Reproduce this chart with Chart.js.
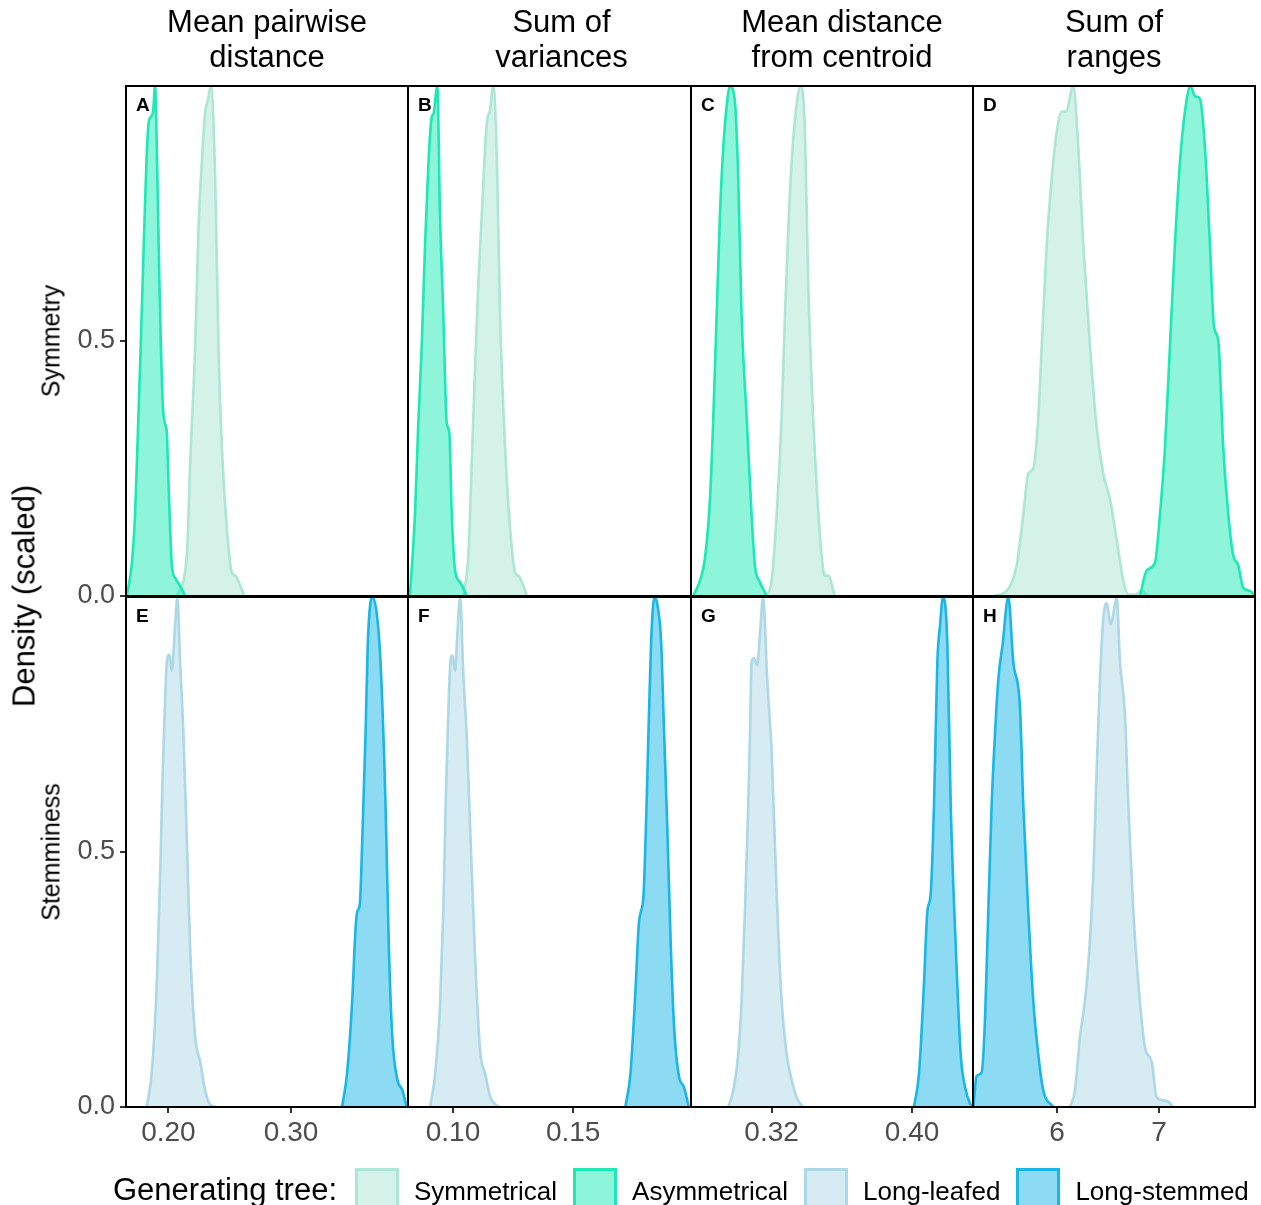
<!DOCTYPE html>
<html>
<head>
<meta charset="utf-8">
<script src="https://cdn.jsdelivr.net/npm/chart.js@4.4.1/dist/chart.umd.min.js"></script>
<style>
  body { margin: 0; background: #fff; width: 1261px; height: 1205px; overflow: hidden; position: relative;
         font-family: "Liberation Sans", Arial, Helvetica, sans-serif; }
  canvas { position: absolute; }
  .strip { position: absolute; text-align: center; font-size: 31px; line-height: 35px; color: #000; white-space: pre; }
  .letter { position: absolute; font-size: 19px; font-weight: bold; line-height: 19px; color: #000; }
  .rot { position: absolute; transform: translate(-50%, -50%) rotate(-90deg); white-space: nowrap; color: #000; }
  #legend { position: absolute; left: 113px; top: 1168px; display: flex; align-items: flex-start; width: 1200px; white-space: nowrap; }
  #legend span { flex-shrink: 0; }
  #legend .title { font-size: 31px; line-height: 31px; margin-top: 6px; margin-right: 18px; }
  #legend .key { width: 38px; height: 40px; border: 3px solid; margin-right: 15px; box-sizing: content-box; }
  #legend .lab { font-size: 26px; line-height: 26px; margin-top: 10px; margin-right: 16px; }
</style>
</head>
<body>
<script>
// facet text
const columnTitles = ['Mean pairwise\ndistance', 'Sum of\nvariances', 'Mean distance\nfrom centroid', 'Sum of\nranges'];
const rowTitles = ['Symmetry', 'Stemminess'];
const panelLetters = ['A', 'B', 'C', 'D', 'E', 'F', 'G', 'H'];

// axes
const xMin = [0.1654, 0.0813, 0.2741, 5.176];
const xMax = [0.3953, 0.1990, 0.4347, 7.941];
const xTicks = [[0.20, 0.30], [0.10, 0.15], [0.32, 0.40], [6, 7]];
const xTickLabels = [['0.20', '0.30'], ['0.10', '0.15'], ['0.32', '0.40'], ['6', '7']];
const yTicks = [0, 0.5];
const yTickLabels = ['0.0', '0.5'];

// A: mean pairwise distance, symmetry
const aAsymX = [0.1660, 0.1700, 0.1728, 0.1752, 0.1774, 0.1800, 0.1822, 0.1840, 0.1858, 0.1875, 0.1891, 0.1910, 0.1926, 0.1953, 0.1970, 0.1987, 0.2001, 0.2028, 0.2056, 0.2095, 0.2136];
const aAsymY = [0, 0.06, 0.16, 0.33, 0.49, 0.70, 0.86, 0.93, 0.94, 0.95, 1.0, 0.82, 0.62, 0.38, 0.34, 0.32, 0.22, 0.06, 0.035, 0.02, 0];
const aSymX = [0.2068, 0.2150, 0.2177, 0.2218, 0.2245, 0.2272, 0.2300, 0.2320, 0.2346, 0.2381, 0.2408, 0.2436, 0.2477, 0.2518, 0.2545, 0.2569, 0.2618];
const aSymY = [0, 0.08, 0.26, 0.49, 0.72, 0.85, 0.95, 0.97, 1.0, 0.82, 0.49, 0.29, 0.13, 0.045, 0.04, 0.03, 0];

// B: sum of variances, symmetry
const bAsymX = [0.0821, 0.0842, 0.0855, 0.0870, 0.0884, 0.0898, 0.0912, 0.0919, 0.0935, 0.0946, 0.0960, 0.0974, 0.0985, 0.0995, 0.1009, 0.1030, 0.1058];
const bAsymY = [0, 0.16, 0.33, 0.49, 0.69, 0.85, 0.94, 0.945, 1.0, 0.75, 0.55, 0.34, 0.32, 0.16, 0.05, 0.027, 0];
const bSymX = [0.1043, 0.1064, 0.1078, 0.1092, 0.1106, 0.1120, 0.1141, 0.1153, 0.1168, 0.1183, 0.1196, 0.1217, 0.1238, 0.1259, 0.1273, 0.1284, 0.1308];
const bSymY = [0, 0.08, 0.26, 0.45, 0.62, 0.75, 0.93, 0.95, 1.0, 0.85, 0.55, 0.29, 0.13, 0.045, 0.04, 0.03, 0];

// C: mean distance from centroid, symmetry
const cAsymX = [0.2754, 0.2792, 0.2821, 0.2849, 0.2868, 0.2887, 0.2906, 0.2925, 0.2944, 0.2963, 0.2991, 0.3010, 0.3029, 0.3058, 0.3086, 0.3105, 0.3134, 0.3172];
const cAsymY = [0, 0.03, 0.075, 0.19, 0.35, 0.55, 0.75, 0.88, 0.96, 1.0, 0.97, 0.82, 0.55, 0.35, 0.16, 0.06, 0.027, 0];
const cSymX = [0.3172, 0.3200, 0.3229, 0.3257, 0.3276, 0.3295, 0.3314, 0.3338, 0.3365, 0.3390, 0.3408, 0.3428, 0.3456, 0.3485, 0.3503, 0.3522, 0.3560];
const cSymY = [0, 0.03, 0.16, 0.35, 0.55, 0.72, 0.85, 0.95, 1.0, 0.91, 0.62, 0.42, 0.22, 0.08, 0.04, 0.04, 0];

// D: sum of ranges, symmetry
const dAsymX = [6.813, 6.879, 6.960, 7.009, 7.058, 7.107, 7.156, 7.205, 7.254, 7.310, 7.352, 7.401, 7.450, 7.499, 7.538, 7.581, 7.630, 7.679, 7.728, 7.777, 7.826, 7.892, 7.944];
const dAsymY = [0, 0.05, 0.065, 0.16, 0.29, 0.49, 0.69, 0.85, 0.95, 1.0, 0.98, 0.975, 0.88, 0.69, 0.53, 0.50, 0.29, 0.16, 0.08, 0.06, 0.016, 0.01, 0];
const dSymX = [5.375, 5.506, 5.604, 5.669, 5.718, 5.767, 5.816, 5.850, 5.899, 5.948, 5.997, 6.046, 6.088, 6.159, 6.208, 6.257, 6.323, 6.389, 6.453, 6.519, 6.585, 6.650, 6.699, 6.764, 6.830, 6.892];
const dSymY = [0, 0.01, 0.06, 0.16, 0.24, 0.25, 0.35, 0.49, 0.69, 0.82, 0.91, 0.95, 0.95, 1.0, 0.88, 0.69, 0.49, 0.33, 0.24, 0.19, 0.11, 0.03, 0.003, 0.003, 0.01, 0];

// E: mean pairwise distance, stemminess
const eStemX = [0.3416, 0.3457, 0.3498, 0.3525, 0.3539, 0.3560, 0.3580, 0.3607, 0.3625, 0.3661, 0.3697, 0.3729, 0.3770, 0.3797, 0.3825, 0.3866, 0.3907, 0.3942];
const eStemY = [0, 0.068, 0.208, 0.348, 0.383, 0.397, 0.523, 0.733, 0.908, 1.0, 0.97, 0.873, 0.593, 0.313, 0.138, 0.054, 0.033, 0];
const eLeafX = [0.1823, 0.1864, 0.1905, 0.1932, 0.1954, 0.1973, 0.1987, 0.2008, 0.2027, 0.2054, 0.2073, 0.2095, 0.2122, 0.2150, 0.2177, 0.2218, 0.2259, 0.2299, 0.2340, 0.2395];
const eLeafY = [0, 0.068, 0.243, 0.453, 0.663, 0.80, 0.873, 0.887, 0.855, 0.943, 1.0, 0.873, 0.733, 0.523, 0.313, 0.138, 0.089, 0.033, 0.005, 0];

// F: sum of variances, stemminess
const fStemX = [0.1717, 0.1738, 0.1759, 0.1773, 0.1780, 0.1793, 0.1805, 0.1814, 0.1824, 0.1838, 0.1852, 0.1866, 0.1877, 0.1891, 0.1905, 0.1919, 0.1940, 0.1960, 0.1981];
const fStemY = [0, 0.065, 0.228, 0.36, 0.38, 0.42, 0.59, 0.75, 0.91, 1.0, 0.98, 0.91, 0.75, 0.555, 0.33, 0.163, 0.06, 0.04, 0];
const fLeafX = [0.0905, 0.0926, 0.0946, 0.0960, 0.0971, 0.0981, 0.0991, 0.0998, 0.1009, 0.1018, 0.1030, 0.1043, 0.1058, 0.1071, 0.1092, 0.1113, 0.1134, 0.1155, 0.1183, 0.1196];
const fLeafY = [0, 0.065, 0.196, 0.39, 0.62, 0.78, 0.88, 0.885, 0.855, 0.927, 1.0, 0.85, 0.72, 0.555, 0.294, 0.111, 0.065, 0.02, 0.003, 0];

// G: mean distance from centroid, stemminess
const gStemX = [0.4011, 0.4040, 0.4068, 0.4087, 0.4106, 0.4125, 0.4144, 0.4159, 0.4176, 0.4201, 0.4220, 0.4249, 0.4277, 0.4306, 0.4338];
const gStemY = [0, 0.068, 0.243, 0.383, 0.418, 0.593, 0.873, 0.943, 1.0, 0.908, 0.593, 0.313, 0.103, 0.033, 0];
const gLeafX = [0.2953, 0.2982, 0.3010, 0.3029, 0.3048, 0.3067, 0.3077, 0.3086, 0.3099, 0.3118, 0.3134, 0.3152, 0.3175, 0.3200, 0.3229, 0.3257, 0.3286, 0.3314, 0.3342, 0.3380];
const gLeafY = [0, 0.033, 0.103, 0.208, 0.383, 0.593, 0.733, 0.873, 0.88, 0.866, 0.929, 1.0, 0.838, 0.698, 0.418, 0.208, 0.103, 0.054, 0.019, 0];

// H: sum of ranges, stemminess
const hStemX = [5.179, 5.212, 5.261, 5.294, 5.326, 5.359, 5.392, 5.424, 5.467, 5.522, 5.571, 5.637, 5.669, 5.718, 5.767, 5.816, 5.865, 5.963];
const hStemY = [0, 0.061, 0.068, 0.173, 0.383, 0.593, 0.733, 0.838, 0.908, 1.0, 0.873, 0.782, 0.593, 0.383, 0.208, 0.103, 0.033, 0];
const hLeafX = [6.127, 6.176, 6.225, 6.274, 6.306, 6.355, 6.389, 6.421, 6.453, 6.487, 6.526, 6.568, 6.585, 6.617, 6.666, 6.699, 6.748, 6.797, 6.862, 6.928, 6.977, 7.075, 7.140];
const hLeafY = [0, 0.033, 0.138, 0.208, 0.278, 0.453, 0.663, 0.838, 0.957, 0.988, 0.946, 0.985, 1.0, 0.873, 0.768, 0.593, 0.383, 0.243, 0.117, 0.089, 0.019, 0.012, 0];

const groups = {
  sym:  { label: 'Symmetrical',  line: 'rgb(172,230,212)', fill: 'rgba(172,230,212,0.5)' },
  asym: { label: 'Asymmetrical', line: 'rgb(29,233,182)',  fill: 'rgba(29,233,182,0.5)' },
  leaf: { label: 'Long-leafed',  line: 'rgb(173,216,230)', fill: 'rgba(173,216,230,0.5)' },
  stem: { label: 'Long-stemmed', line: 'rgb(27,182,232)',  fill: 'rgba(27,182,232,0.5)' }
};

// first series in each list is drawn on top
const panelSeries = [
  [['asym', aAsymX, aAsymY], ['sym', aSymX, aSymY]],
  [['asym', bAsymX, bAsymY], ['sym', bSymX, bSymY]],
  [['asym', cAsymX, cAsymY], ['sym', cSymX, cSymY]],
  [['asym', dAsymX, dAsymY], ['sym', dSymX, dSymY]],
  [['stem', eStemX, eStemY], ['leaf', eLeafX, eLeafY]],
  [['stem', fStemX, fStemY], ['leaf', fLeafX, fLeafY]],
  [['stem', gStemX, gStemY], ['leaf', gLeafX, gLeafY]],
  [['stem', hStemX, hStemY], ['leaf', hLeafX, hLeafY]]
];

// layout (pixels)
const colLeft = [126, 408, 691, 973];
const colRight = [408, 691, 973, 1255];
const rowTop = [86, 597];
const rowBottom = [596, 1107];
const titleShift = [0, 12, 10, 0];
const pad = 30, yAxisW = 60, xAxisH = 40;
const FONT = '"Liberation Sans", Arial, Helvetica, sans-serif';

const borderPlugin = {
  id: 'panelBorder',
  afterDatasetsDraw(chart) {
    const { ctx, chartArea: a } = chart;
    ctx.save();
    ctx.strokeStyle = '#000';
    ctx.lineWidth = 2;
    ctx.strokeRect(a.left, a.top, a.right - a.left, a.bottom - a.top);
    ctx.restore();
  }
};

function addDiv(cls, text, style) {
  const d = document.createElement('div');
  d.className = cls;
  d.textContent = text;
  Object.assign(d.style, style);
  document.body.appendChild(d);
  return d;
}

panelSeries.forEach((series, i) => {
  const r = Math.floor(i / 4), c = i % 4;
  const w = colRight[c] - colLeft[c], h = rowBottom[r] - rowTop[r];
  const yw = c === 0 ? yAxisW : 0;
  const xh = r === 1 ? xAxisH : 0;
  const cv = document.createElement('canvas');
  cv.width = w + 2 * pad + yw;
  cv.height = h + 2 * pad + xh;
  cv.style.left = (colLeft[c] - pad - yw) + 'px';
  cv.style.top = (rowTop[r] - pad) + 'px';
  document.body.appendChild(cv);

  new Chart(cv, {
    type: 'line',
    data: {
      datasets: series.map(([g, xs, ys]) => ({
        label: groups[g].label,
        data: xs.map((x, k) => ({ x: x, y: ys[k] })),
        borderColor: groups[g].line,
        backgroundColor: groups[g].fill,
        borderWidth: 2.6,
        fill: 'origin',
        pointRadius: 0,
        cubicInterpolationMode: 'monotone',
        clip: 0
      }))
    },
    options: {
      responsive: false,
      animation: false,
      layout: { padding: pad },
      plugins: { legend: { display: false }, tooltip: { enabled: false } },
      scales: {
        x: {
          type: 'linear',
          min: xMin[c],
          max: xMax[c],
          display: r === 1,
          afterBuildTicks: s => { s.ticks = xTicks[c].map(v => ({ value: v })); },
          afterFit: s => { s.height = xh; },
          ticks: {
            autoSkip: false,
            maxRotation: 0,
            padding: 3,
            color: '#4D4D4D',
            font: { family: FONT, size: 28 },
            callback: (v, k) => xTickLabels[c][k]
          },
          grid: { drawOnChartArea: false, drawTicks: true, tickLength: 6, color: '#333', lineWidth: 2 },
          border: { display: false }
        },
        y: {
          type: 'linear',
          min: 0,
          max: 1,
          display: c === 0,
          afterBuildTicks: s => { s.ticks = yTicks.map(v => ({ value: v })); },
          afterFit: s => { s.width = yw; },
          ticks: {
            autoSkip: false,
            padding: 5,
            color: '#4D4D4D',
            font: { family: FONT, size: 27 },
            callback: (v, k) => yTickLabels[k]
          },
          grid: { drawOnChartArea: false, drawTicks: true, tickLength: 6, color: '#333', lineWidth: 2 },
          border: { display: false }
        }
      }
    },
    plugins: [borderPlugin]
  });

  addDiv('letter', panelLetters[i], { left: (colLeft[c] + 10) + 'px', top: (rowTop[r] + 9) + 'px' });
});

columnTitles.forEach((t, c) => {
  addDiv('strip', t, { left: (colLeft[c] + titleShift[c]) + 'px', width: (colRight[c] - colLeft[c]) + 'px', top: '4px' });
});

rowTitles.forEach((t, r) => {
  addDiv('rot', t, { left: '51px', top: ((rowTop[r] + rowBottom[r]) / 2) + 'px', fontSize: '25px', lineHeight: '25px' });
});
addDiv('rot', 'Density (scaled)', { left: '24px', top: '596px', fontSize: '31px', lineHeight: '31px' });

// legend
const legend = document.createElement('div');
legend.id = 'legend';
const lt = document.createElement('span');
lt.className = 'title';
lt.textContent = 'Generating tree:';
legend.appendChild(lt);
['sym', 'asym', 'leaf', 'stem'].forEach(g => {
  const k = document.createElement('span');
  k.className = 'key';
  k.style.borderColor = groups[g].line;
  k.style.background = groups[g].fill;
  legend.appendChild(k);
  const l = document.createElement('span');
  l.className = 'lab';
  l.textContent = groups[g].label;
  legend.appendChild(l);
});
document.body.appendChild(legend);
</script>
</body>
</html>
